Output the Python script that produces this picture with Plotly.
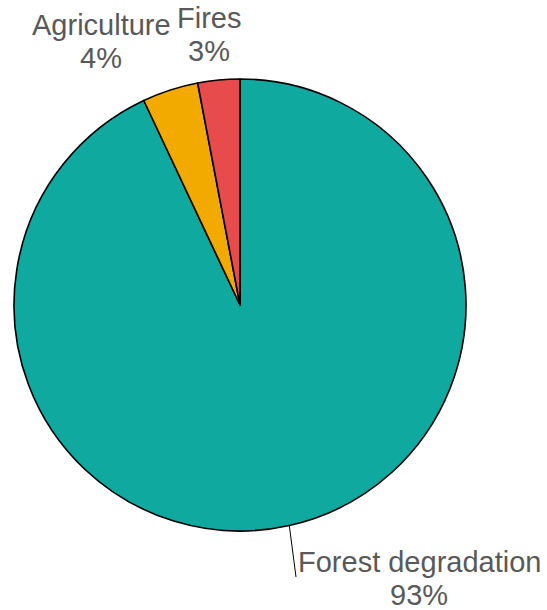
import math
import plotly.graph_objects as go

# Shares of forest loss by driver
labels = ["Forest degradation", "Agriculture", "Fires"]
values = [93, 4, 3]
colors = ["#0FA9A0", "#F2A900", "#E84B4B"]

W, H = 547, 610
CX, CY, R = 240, 305, 226          # pie centre and radius in pixels
FONT = dict(family="Liberation Sans, Arial, sans-serif", size=29, color="#595959")

# label placement (pixel centres of the name line and the percent line)
label_pos = {
    "Forest degradation": ((419, 562), (419, 595)),
    "Agriculture": ((101, 25), (101, 58)),
    "Fires": ((209, 18), (209, 51)),
}


def px(x, y):
    return x / W, 1 - y / H


fig = go.Figure(
    go.Pie(
        labels=labels,
        values=values,
        sort=False,
        direction="clockwise",
        rotation=0,
        marker=dict(colors=colors, line=dict(color="#000000", width=1.6)),
        textinfo="none",
        showlegend=False,
        automargin=False,
        domain=dict(x=[(CX - R) / W, (CX + R) / W], y=[(H - CY - R) / H, (H - CY + R) / H]),
    )
)

total = sum(values)
cum = 0
for lab, val in zip(labels, values):
    mid = (cum + val / 2) / total * 2 * math.pi
    cum += val
    pct = f"{round(val / total * 100)}%"
    (nx, ny), (vx, vy) = label_pos[lab]
    for text, (x, y) in ((lab, (nx, ny)), (pct, (vx, vy))):
        ax, ay = px(x, y)
        fig.add_annotation(
            x=ax, y=ay, xref="paper", yref="paper", text=text, showarrow=False,
            xanchor="center", yanchor="middle", font=FONT,
        )
    if lab == "Forest degradation":
        # leader line from the slice edge to the label
        sx, sy = CX + R * math.sin(mid), CY - R * math.cos(mid)
        ex, ey = 296, 577
        x0, y0 = px(sx, sy)
        x1, y1 = px(ex, ey)
        fig.add_shape(type="line", xref="paper", yref="paper", x0=x0, y0=y0, x1=x1, y1=y1,
                      line=dict(color="#000000", width=1))

fig.update_layout(
    width=W,
    height=H,
    margin=dict(l=0, r=0, t=0, b=0),
    paper_bgcolor="white",
    plot_bgcolor="white",
)

fig.write_html("out.html")
